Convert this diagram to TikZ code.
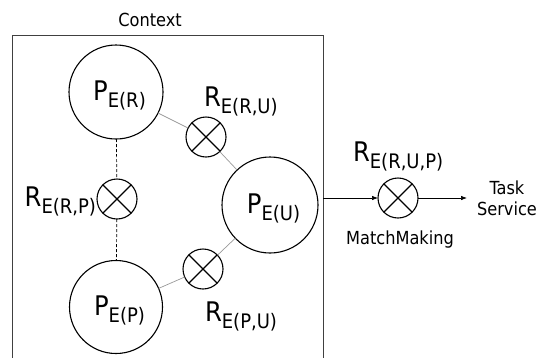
\documentclass[tikz,border=0pt]{standalone}
\usepackage{fontspec}
\setmainfont{DejaVu Sans Condensed}
\usetikzlibrary{arrows.meta}

% symbol with a lowered subscript, e.g. P_{E(R)}
\newcommand\elabel[2]{{\fontsize{27}{27}\selectfont #1}\raisebox{-7pt}{\fontsize{20}{20}\selectfont #2}}

\tikzset{
  every node/.style={inner sep=0pt, outer sep=0pt},
  pcirc/.style={circle, draw=black, line width=1.1pt, minimum size=#1},
  pcirc/.default=94pt,
  rop/.style={circle, draw=black, line width=1.1pt, minimum size=40pt,
    path picture={
      \draw[line width=1.1pt]
        (path picture bounding box.north west) -- (path picture bounding box.south east)
        (path picture bounding box.north east) -- (path picture bounding box.south west);
    }},
  link/.style={draw=gray!80, line width=0.7pt},
  dlink/.style={draw=black, line width=0.7pt, dash pattern=on 3pt off 2pt},
  flow/.style={draw=black, line width=0.7pt, -{Latex[length=6pt,width=4.5pt]}},
  txt/.style={font=\fontsize{18}{21}\selectfont},
  ptext/.style={anchor=center, xshift=3.5pt, yshift=-3pt},
}

\begin{document}
\begin{tikzpicture}[x=1pt, y=-1pt]
\useasboundingbox (0,0) rectangle (545,357);

% context frame, open at the bottom
\node[txt] (ctx) at (150,20) {Context};
\draw[draw=black!75, line width=0.8pt] (12,360) -- (12,35) -- (323,35) -- (323,360);

% participants
\node[pcirc=94pt] (PR) at (116,92) {};
\node[pcirc=96pt] (PU) at (270,205) {};
\node[pcirc=93pt] (PP) at (116,307) {};
\node[ptext] (PRtxt) at (PR.center) {\elabel{P}{E(R)}};
\node[ptext] (PUtxt) at (PU.center) {\elabel{P}{E(U)}};
\node[ptext] (PPtxt) at (PP.center) {\elabel{P}{E(P)}};

% relation operators
\node[rop] (RRU) at (206,137) {};
\node[rop] (RRP) at (117,199) {};
\node[rop] (RPU) at (203,269) {};
\node[rop] (RM)  at (398,198) {};

% operator labels
\node[anchor=base west] (lRU) at (204,106) {\elabel{R}{E(R,U)}};
\node[anchor=base east] (lRP) at (96,206) {\elabel{R}{E(R,P)}};
\node[anchor=base west] (lPU) at (205,321) {\elabel{R}{E(P,U)}};
\node[anchor=base west] (lM)  at (353,161) {\elabel{R}{E(R,U,P)}};
\node[txt] (mm) at (400,240) {MatchMaking};
\node[txt, align=center] (task) at (507,198) {Task\\Service};

% connections
\draw[link] (PR) -- (RRU) -- (PU);
\draw[link] (PP) -- (RPU) -- (PU);
\draw[dlink] (PR) -- (RRP) -- (PP);

\coordinate (exit) at (323,198);
\coordinate (taskin) at (467,198);
\draw[flow] (exit) -- (RM);
\draw[flow] (RM) -- (taskin);
\end{tikzpicture}
\end{document}
